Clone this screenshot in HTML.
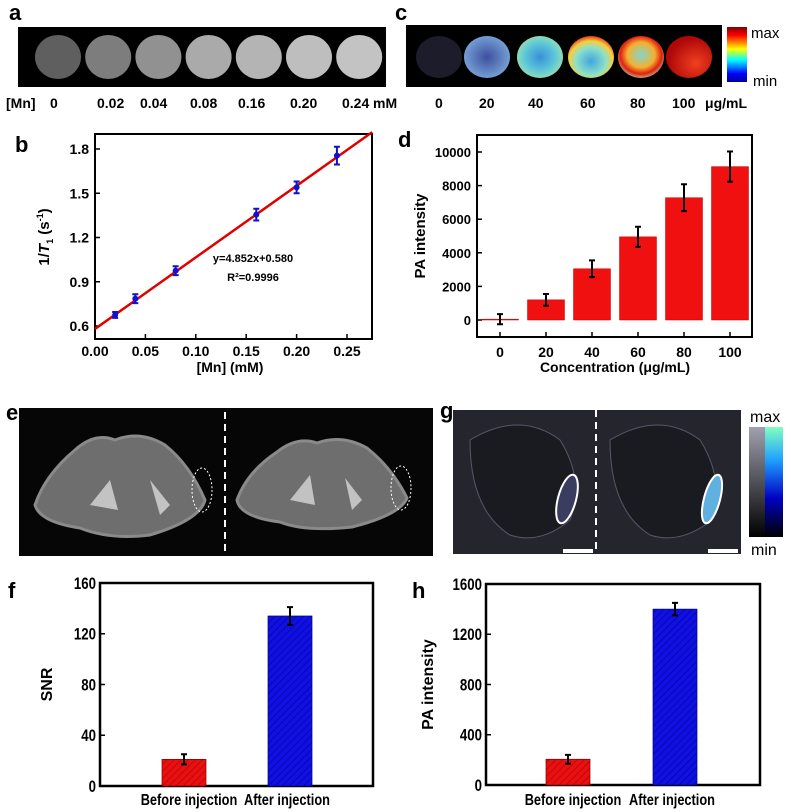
<!DOCTYPE html>
<html><head><meta charset="utf-8"><style>
html,body{margin:0;padding:0;background:#fff;}
svg{display:block;font-family:"Liberation Sans",Arial,sans-serif;font-weight:bold;}
</style></head><body>
<svg id="fig" width="791" height="812" viewBox="0 0 791 812" xmlns="http://www.w3.org/2000/svg">
<defs>
<radialGradient id="g40" cx="50%" cy="50%" r="55%"><stop offset="0" stop-color="#3a8fd8"/><stop offset="0.6" stop-color="#5cc7d8"/><stop offset="1" stop-color="#9fe0b0"/></radialGradient>
<radialGradient id="g60" cx="50%" cy="60%" r="60%"><stop offset="0" stop-color="#3fa6e0"/><stop offset="0.55" stop-color="#8ee0c8"/><stop offset="0.8" stop-color="#f4d040"/><stop offset="1" stop-color="#e83a10"/></radialGradient>
<radialGradient id="g80" cx="50%" cy="45%" r="60%"><stop offset="0" stop-color="#7fd7d0"/><stop offset="0.5" stop-color="#f5b030"/><stop offset="0.75" stop-color="#e02010"/><stop offset="1" stop-color="#b8e0b0"/></radialGradient>
<radialGradient id="g100" cx="65%" cy="65%" r="60%"><stop offset="0" stop-color="#f04020"/><stop offset="1" stop-color="#b00808"/></radialGradient>
<radialGradient id="g20" cx="50%" cy="50%" r="55%"><stop offset="0" stop-color="#3d4fa0"/><stop offset="1" stop-color="#7aa6d8"/></radialGradient>
<linearGradient id="jet" x1="0" y1="1" x2="0" y2="0"><stop offset="0" stop-color="#00008f"/><stop offset="0.15" stop-color="#0000ff"/><stop offset="0.4" stop-color="#00ffff"/><stop offset="0.6" stop-color="#ffff00"/><stop offset="0.85" stop-color="#ff0000"/><stop offset="1" stop-color="#800000"/></linearGradient>
<linearGradient id="grayb" x1="0" y1="1" x2="0" y2="0"><stop offset="0" stop-color="#000"/><stop offset="1" stop-color="#a0a0b0"/></linearGradient>
<linearGradient id="blueb" x1="0" y1="1" x2="0" y2="0"><stop offset="0" stop-color="#000"/><stop offset="0.35" stop-color="#0000c0"/><stop offset="0.7" stop-color="#20a0ff"/><stop offset="1" stop-color="#80ffc0"/></linearGradient>
<pattern id="hatchR" width="5" height="5" patternUnits="userSpaceOnUse" patternTransform="rotate(45)"><rect width="5" height="5" fill="#e81010"/><line x1="0" y1="0" x2="0" y2="5" stroke="#b00000" stroke-width="1.2"/></pattern>
<pattern id="hatchB" width="5" height="5" patternUnits="userSpaceOnUse" patternTransform="rotate(45)"><rect width="5" height="5" fill="#1010e0"/><line x1="0" y1="0" x2="0" y2="5" stroke="#0000a0" stroke-width="1.2"/></pattern>
</defs>

<!-- panel a -->
<text x="9" y="20" font-size="22">a</text>
<rect x="18" y="27" width="368" height="60" fill="#000"/>
<g id="aCircles"></g>
<g font-size="14">
<text x="6" y="108">[Mn]</text>
<text x="50" y="108">0</text><text x="97" y="108">0.02</text><text x="140" y="108">0.04</text><text x="190" y="108">0.08</text><text x="238" y="108">0.16</text><text x="290" y="108">0.20</text><text x="342" y="108">0.24</text><text x="373" y="108">mM</text>
</g>

<!-- panel c -->
<text x="395" y="20" font-size="22">c</text>
<rect x="406" y="25" width="316" height="62" fill="#000"/>
<ellipse cx="439" cy="57" rx="23" ry="21" fill="#1c1c2a"/>
<ellipse cx="487" cy="57" rx="23" ry="21" fill="url(#g20)"/>
<ellipse cx="540" cy="57" rx="23" ry="21" fill="url(#g40)"/>
<ellipse cx="591" cy="57" rx="23" ry="21" fill="url(#g60)"/>
<ellipse cx="641" cy="57" rx="23" ry="21" fill="url(#g80)"/>
<ellipse cx="689" cy="57" rx="23" ry="21" fill="url(#g100)"/>
<rect x="727" y="27" width="20" height="55" fill="url(#jet)"/>
<text x="751" y="38" font-size="15" font-weight="normal">max</text>
<text x="753" y="86" font-size="15" font-weight="normal">min</text>
<g font-size="14">
<text x="435" y="108">0</text><text x="479" y="108">20</text><text x="528" y="108">40</text><text x="580" y="108">60</text><text x="630" y="108">80</text><text x="672" y="108">100</text><text x="705" y="108">μg/mL</text>
</g>

<!-- panel b -->
<text x="15" y="152" font-size="22">b</text>
<g id="chartB"></g>

<!-- panel d -->
<text x="398" y="147" font-size="22">d</text>
<g id="chartD"></g>

<!-- panel e -->
<text x="6" y="420" font-size="22">e</text>
<rect x="19" y="408" width="414" height="148" fill="#060606"/>
<g fill="#6e6e6e" stroke="#8a8a8a" stroke-width="3">
<path d="M35 505 Q45 475 75 450 Q95 432 115 440 Q140 430 165 445 Q190 465 205 500 Q200 520 150 535 Q110 540 80 528 Q40 522 35 505Z"/>
<path d="M237 500 Q247 472 277 452 Q297 436 317 443 Q342 434 367 448 Q392 468 407 498 Q400 515 352 527 Q305 532 280 522 Q240 517 237 500Z"/>
</g>
<g fill="#d8d8d8" opacity="0.8"><path d="M90 505 L110 480 L118 510 Z"/><path d="M150 480 L170 505 L160 515Z"/><path d="M290 500 L310 475 L315 505 Z"/><path d="M345 478 L362 500 L352 510Z"/></g>
<ellipse cx="202" cy="490" rx="10" ry="22" fill="none" stroke="#fff" stroke-dasharray="2 2"/>
<ellipse cx="401" cy="488" rx="10" ry="22" fill="none" stroke="#fff" stroke-dasharray="2 2"/>
<line x1="225" y1="412" x2="225" y2="552" stroke="#fff" stroke-width="2" stroke-dasharray="7 5"/>

<!-- panel g -->
<text x="440" y="418" font-size="22">g</text>
<rect x="453" y="410" width="288" height="144" fill="#25262d"/>
<path d="M470 440 Q520 410 560 440 Q585 480 570 520 Q540 545 510 535 Q470 510 470 440Z" fill="#1a1b20" stroke="#55576a"/>
<path d="M610 440 Q660 410 700 440 Q725 480 712 520 Q680 545 650 535 Q610 510 610 440Z" fill="#1a1b20" stroke="#55576a"/>
<ellipse cx="567" cy="499" rx="9" ry="25" transform="rotate(15 567 499)" fill="#3a3d60" stroke="#fff" stroke-width="2"/>
<ellipse cx="712" cy="499" rx="8" ry="25" transform="rotate(15 712 499)" fill="#60b0e0" stroke="#fff" stroke-width="2"/>
<line x1="596" y1="410" x2="596" y2="554" stroke="#fff" stroke-width="2" stroke-dasharray="7 5"/>
<rect x="563" y="549" width="30" height="4" fill="#fff"/><rect x="708" y="549" width="30" height="4" fill="#fff"/>
<rect x="749" y="427" width="16" height="110" fill="url(#grayb)"/>
<rect x="765" y="427" width="18" height="110" fill="url(#blueb)"/>
<text x="750" y="422" font-size="16" font-weight="normal">max</text>
<text x="751" y="555" font-size="16" font-weight="normal">min</text>

<!-- panel f / h -->
<text x="8" y="598" font-size="22">f</text>
<g id="chartF"></g>
<text x="412" y="598" font-size="22">h</text>
<g id="chartH"></g>
</svg>
<script>
// ---- data ----
const mnConc = [0.02,0.04,0.08,0.16,0.20,0.24];
const invT1 = [0.675,0.785,0.975,1.355,1.54,1.755];
const invT1Err = [0.02,0.03,0.03,0.04,0.04,0.06];
const fitSlope = 4.852, fitIntercept = 0.580;
const bXTicks = [0,0.05,0.10,0.15,0.20,0.25];
const bYTicks = [0.6,0.9,1.2,1.5,1.8];

const dCats = ["0","20","40","60","80","100"];
const dVals = [50,1200,3050,4950,7280,9130];
const dErr = [300,350,500,600,800,900];
const dYTicks = [0,2000,4000,6000,8000,10000];

const fCats = ["Before injection","After injection"];
const fVals = [21,134];
const fErr = [4,7];
const fYTicks = [0,40,80,120,160];

const hCats = ["Before injection","After injection"];
const hVals = [205,1400];
const hErr = [35,50];
const hYTicks = [0,400,800,1200,1600];

const aGray = [95,125,145,170,180,190,195];

const NS="http://www.w3.org/2000/svg";
function mk(parent,tag,attrs,text){const e=document.createElementNS(NS,tag);for(const k in attrs)e.setAttribute(k,attrs[k]);if(text!==undefined)e.textContent=text;parent.appendChild(e);return e;}

// panel a circles
(function(){const g=document.getElementById('aCircles');
aGray.forEach((v,i)=>{const cx=58+i*50.2;
const c=mk(g,'ellipse',{cx:cx,cy:57,rx:23,ry:22,fill:`rgb(${v},${v},${v})`});

});})();

// panel b
(function(){const g=document.getElementById('chartB');
const L=95,R=372,T=134,B=339;
const sx=v=>95+v*1008, sy=v=>326-(v-0.6)*147.5;
mk(g,'rect',{x:L,y:T,width:R-L,height:B-T,fill:'none',stroke:'#000','stroke-width':2});
bXTicks.forEach(t=>{mk(g,'line',{x1:sx(t),y1:B,x2:sx(t),y2:B-5,stroke:'#000','stroke-width':1.5});
const tl=mk(g,'text',{x:sx(t),y:356,'text-anchor':'middle','font-size':14},t.toFixed(2));

});
bYTicks.forEach(t=>{mk(g,'line',{x1:L,y1:sy(t),x2:L+5,y2:sy(t),stroke:'#000','stroke-width':1.5});
const tl=mk(g,'text',{x:L-6,y:sy(t)+5,'text-anchor':'end','font-size':14},t.toFixed(1));

});
const fl=mk(g,'line',{x1:sx(0),y1:sy(fitIntercept),x2:sx(0.275),y2:sy(fitIntercept+fitSlope*0.275),stroke:'#e00000','stroke-width':2.5});


mnConc.forEach((c,i)=>{const x=sx(c),y=sy(invT1[i]),e=invT1Err[i]*147.5;
const eb=mk(g,'path',{d:`M${x} ${y-e}V${y+e}M${x-3} ${y-e}H${x+3}M${x-3} ${y+e}H${x+3}`,stroke:'#1010d0','stroke-width':2,fill:'none'});


const p=mk(g,'circle',{cx:x,cy:y,r:3,fill:'#1010d0'});

});
mk(g,'text',{x:253,y:262,'text-anchor':'middle','font-size':11},'y=4.852x+0.580');
mk(g,'text',{x:253,y:281,'text-anchor':'middle','font-size':11},'R²=0.9996');
const xt=mk(g,'text',{x:230,y:372,'text-anchor':'middle','font-size':14},'[Mn] (mM)');


const yt=mk(g,'text',{transform:'translate(49 237) rotate(-90)','text-anchor':'middle','font-size':15});


yt.innerHTML='1/<tspan font-style="italic">T</tspan><tspan font-size="9" dy="4">1</tspan><tspan dy="-4"> (s</tspan><tspan font-size="9" dy="-6">-1</tspan><tspan dy="6">)</tspan>';
})();

// panel d
(function(){const g=document.getElementById('chartD');
const L=477,R=752,T=135,B=337;
const sy=v=>320-v*0.0168, cx=i=>500+i*46;
mk(g,'rect',{x:L,y:T,width:R-L,height:B-T,fill:'none',stroke:'#000','stroke-width':2});
dYTicks.forEach(t=>{mk(g,'line',{x1:L,y1:sy(t),x2:L+5,y2:sy(t),stroke:'#000','stroke-width':1.5});
const tl=mk(g,'text',{x:L-6,y:sy(t)+5,'text-anchor':'end','font-size':13},String(t));

});
dCats.forEach((c,i)=>{const x=cx(i);
const b=mk(g,'rect',{x:x-18.5,y:sy(dVals[i]),width:37,height:sy(0)-sy(dVals[i]),fill:'#f01010',stroke:'#c00000','stroke-width':0.5});


const y1=sy(dVals[i]+dErr[i]),y2=sy(dVals[i]-dErr[i]);
const eb=mk(g,'path',{d:`M${x} ${y1}V${y2}M${x-3} ${y1}H${x+3}M${x-3} ${y2}H${x+3}`,stroke:'#000','stroke-width':2,fill:'none'});


mk(g,'line',{x1:x,y1:B,x2:x,y2:B-5,stroke:'#000','stroke-width':1.5});
const tl=mk(g,'text',{x:x,y:357,'text-anchor':'middle','font-size':14},c);

});
const xt=mk(g,'text',{x:615,y:372,'text-anchor':'middle','font-size':14},'Concentration (μg/mL)');


const yt=mk(g,'text',{transform:'translate(425 236) rotate(-90)','text-anchor':'middle','font-size':15},'PA intensity');


})();

// panels f/h
function injChart(id,cats,vals,errs,ticks,max,L,R,T,B,bx,ytitle,ytx){
const g=document.getElementById(id);
const sy=v=>B-v/max*(B-T);
mk(g,'rect',{x:L,y:T,width:R-L,height:B-T,fill:'none',stroke:'#000','stroke-width':2.5});
ticks.forEach(t=>{mk(g,'line',{x1:L,y1:sy(t),x2:L+5,y2:sy(t),stroke:'#000','stroke-width':1.5});
const tl=mk(g,'text',{x:L-4,y:sy(t)+6,'text-anchor':'end','font-size':17,transform:`translate(${L-4} 0) scale(0.78 1) translate(${-(L-4)} 0)`},String(t));

});
cats.forEach((c,i)=>{const x=bx[i];
const b=mk(g,'rect',{x:x-22,y:sy(vals[i]),width:44,height:B-sy(vals[i]),fill:i?'url(#hatchB)':'url(#hatchR)',stroke:i?'#000080':'#800000','stroke-width':0.7});


const y1=sy(vals[i]+errs[i]),y2=sy(vals[i]-errs[i]);
const eb=mk(g,'path',{d:`M${x} ${y1}V${y2}M${x-3} ${y1}H${x+3}M${x-3} ${y2}H${x+3}`,stroke:'#000','stroke-width':2,fill:'none'});


const tx=x+(i?-3:5);
const tl=mk(g,'text',{x:tx,y:805,'text-anchor':'middle','font-size':16,transform:`translate(${tx} 0) scale(0.8 1) translate(${-tx} 0)`},c);

});
const yt=mk(g,'text',{transform:`translate(${ytx} ${(T+B)/2}) rotate(-90)`,'text-anchor':'middle','font-size':16},ytitle);


}
injChart('chartF',fCats,fVals,fErr,fYTicks,160,100,373,583,786,[184,290],'SNR',52);
injChart('chartH',hCats,hVals,hErr,hYTicks,1600,486,760,584,785,[568,675],'PA intensity',433);
</script>
</body></html>
